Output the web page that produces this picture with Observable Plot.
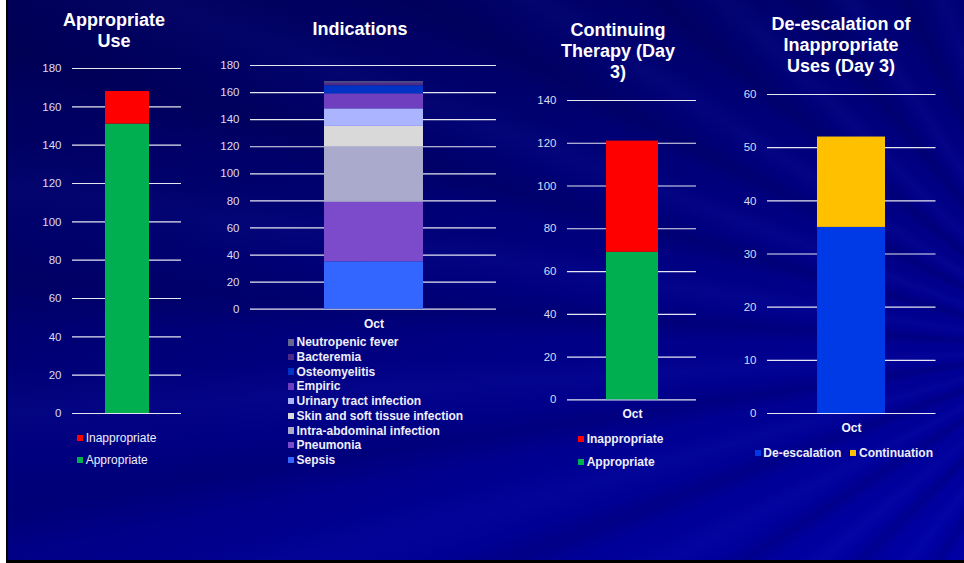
<!DOCTYPE html>
<html><head><meta charset="utf-8">
<script src="https://cdn.jsdelivr.net/npm/d3@7"></script>
<script src="https://cdn.jsdelivr.net/npm/@observablehq/plot@0.6"></script>
<style>
html,body{margin:0;padding:0;background:#fff;}
#stage{position:relative;width:964px;height:563px;overflow:hidden;font-family:"Liberation Sans",Arial,sans-serif;}
#bg{position:absolute;left:6px;top:0;width:958px;height:563px;box-sizing:border-box;border-left:2px solid #000;border-bottom:3px solid #000;
background:
 repeating-conic-gradient(from 180deg at 112% 62%, rgba(70,90,255,0) 0deg, rgba(70,90,255,0.05) 2.5deg, rgba(70,90,255,0) 5deg, rgba(0,0,40,0) 7deg, rgba(0,0,40,0.14) 9.5deg, rgba(0,0,40,0) 12deg),
 linear-gradient(160deg, #000058 0%, #00006c 30%, #000082 55%, #000092 75%, #0000a4 100%);}
.title{position:absolute;color:#fff;font-weight:bold;font-size:18px;line-height:21px;text-align:center;white-space:nowrap;width:240px;}
.lg{position:absolute;font-size:12px;line-height:14px;white-space:nowrap;color:#eeeefa;}
.sw{position:absolute;}
svg{position:absolute;}
</style></head><body><div id="stage"><div id="bg"></div></div>
<script>
// ---- data ----
const month = ["Oct"];

const useSeries = ["Appropriate", "Inappropriate"];
const useValues = [151, 17];
const useTicks = [0, 20, 40, 60, 80, 100, 120, 140, 160, 180];

const indicationSeries = ["Sepsis", "Pneumonia", "Intra-abdominal infection", "Skin and soft tissue infection",
  "Urinary tract infection", "Empiric", "Osteomyelitis", "Bacteremia", "Neutropenic fever"];
const indicationValues = [35, 44, 41, 15, 13, 11, 6, 2, 1];
const indicationTicks = [0, 20, 40, 60, 80, 100, 120, 140, 160, 180];

const day3Series = ["Appropriate", "Inappropriate"];
const day3Values = [69, 52];
const day3Ticks = [0, 20, 40, 60, 80, 100, 120, 140];

const deescSeries = ["De-escalation", "Continuation"];
const deescValues = [35, 17];
const deescTicks = [0, 10, 20, 30, 40, 50, 60];

// ---- styles ----
const useColors = ["#00b050", "#ff0000"];
const indicationColors = ["#3366ff", "#7b4bcc", "#aaaacc", "#d9d9d9", "#aab4ff", "#6f3fbf", "#0033c4", "#4b2a8a", "#66668f"];
const day3Colors = ["#00b050", "#ff0000"];
const deescColors = ["#0039e6", "#ffc000"];

const stage = document.getElementById("stage");
const FONT = '"Liberation Sans", Arial, sans-serif';

function chart({series, values, colors, ticks, x0, x1, yTop, yBottom, showX}) {
  const data = series.map((s, i) => ({month: month[0], series: s, value: values[i]}));
  const mL = 50, mR = 12, mT = 12, mB = 30;
  const width = (x1 - x0) + mL + mR, height = (yBottom - yTop) + mT + mB;
  const marks = [
    Plot.ruleY(ticks, {stroke: "#ffffff", strokeWidth: 1.2, strokeOpacity: 0.9}),
    Plot.barY(data, {x: "month", y: "value", fill: "series"}),
    Plot.axisY({ticks, tickSize: 0, tickPadding: 11, label: null, fontSize: 11.5, fill: "#dcdcf0"})
  ];
  if (showX) marks.push(Plot.axisX({tickSize: 0, tickPadding: 10, label: null, fontSize: 12, fontWeight: "bold", fill: "#f4f4ff"}));
  const xOpts = {domain: month, padding: 0.425, label: null};
  if (!showX) xOpts.axis = null;
  const svg = Plot.plot({
    width, height, marginLeft: mL, marginRight: mR, marginTop: mT, marginBottom: mB,
    style: {background: "transparent", color: "#dcdcf0", fontFamily: FONT, overflow: "visible"},
    x: xOpts,
    y: {domain: [0, ticks[ticks.length - 1]], label: null},
    color: {domain: series, range: colors},
    marks
  });
  svg.style.left = (x0 - mL) + "px";
  svg.style.top = (yTop - mT) + "px";
  stage.appendChild(svg);
}

function title(lines, cx, top) {
  const d = document.createElement("div");
  d.className = "title";
  d.style.left = (cx - 120) + "px";
  d.style.top = top + "px";
  d.innerHTML = lines.join("<br>");
  stage.appendChild(d);
}

function legendItem(label, color, sx, tx, cy, size, bold) {
  const s = document.createElement("div");
  s.className = "sw";
  s.style.cssText = `left:${sx}px;top:${cy - size / 2}px;width:${size}px;height:${size}px;background:${color};`;
  stage.appendChild(s);
  const t = document.createElement("div");
  t.className = "lg";
  t.style.left = tx + "px";
  t.style.top = (cy - 7) + "px";
  t.style.fontWeight = bold ? "bold" : "normal";
  t.textContent = label;
  stage.appendChild(t);
}

// Chart 1
chart({series: useSeries, values: useValues, colors: useColors, ticks: useTicks, x0: 72, x1: 181, yTop: 68.3, yBottom: 413.3, showX: false});
title(["Appropriate", "Use"], 114, 10);
useSeries.slice().reverse().forEach((s, i) => {
  const c = useColors[useSeries.indexOf(s)];
  legendItem(s, c, 77.3, 85.7, 438 + i * 22, 6, false);
});

// Chart 2
chart({series: indicationSeries, values: indicationValues, colors: indicationColors, ticks: indicationTicks, x0: 250, x1: 496, yTop: 65, yBottom: 308.7, showX: true});
title(["Indications"], 360, 18.5);
indicationSeries.slice().reverse().forEach((s, i) => {
  const c = indicationColors[indicationSeries.indexOf(s)];
  legendItem(s, c, 287.5, 296.5, 342.3 + i * 14.7, 6.5, true);
});

// Chart 3
chart({series: day3Series, values: day3Values, colors: day3Colors, ticks: day3Ticks, x0: 566.5, x1: 695.5, yTop: 99.7, yBottom: 399, showX: true});
title(["Continuing", "Therapy (Day", "3)"], 618, 20);
day3Series.slice().reverse().forEach((s, i) => {
  const c = day3Colors[day3Series.indexOf(s)];
  legendItem(s, c, 578.3, 586.7, 439.3 + i * 22.4, 6, true);
});

// Chart 4
chart({series: deescSeries, values: deescValues, colors: deescColors, ticks: deescTicks, x0: 766.5, x1: 935, yTop: 94.3, yBottom: 413.3, showX: true});
title(["De-escalation of", "Inappropriate", "Uses (Day 3)"], 841, 14.3);
legendItem(deescSeries[0], deescColors[0], 755, 763.3, 453.3, 6, true);
legendItem(deescSeries[1], deescColors[1], 850, 859, 453.3, 6, true);
</script></body></html>
